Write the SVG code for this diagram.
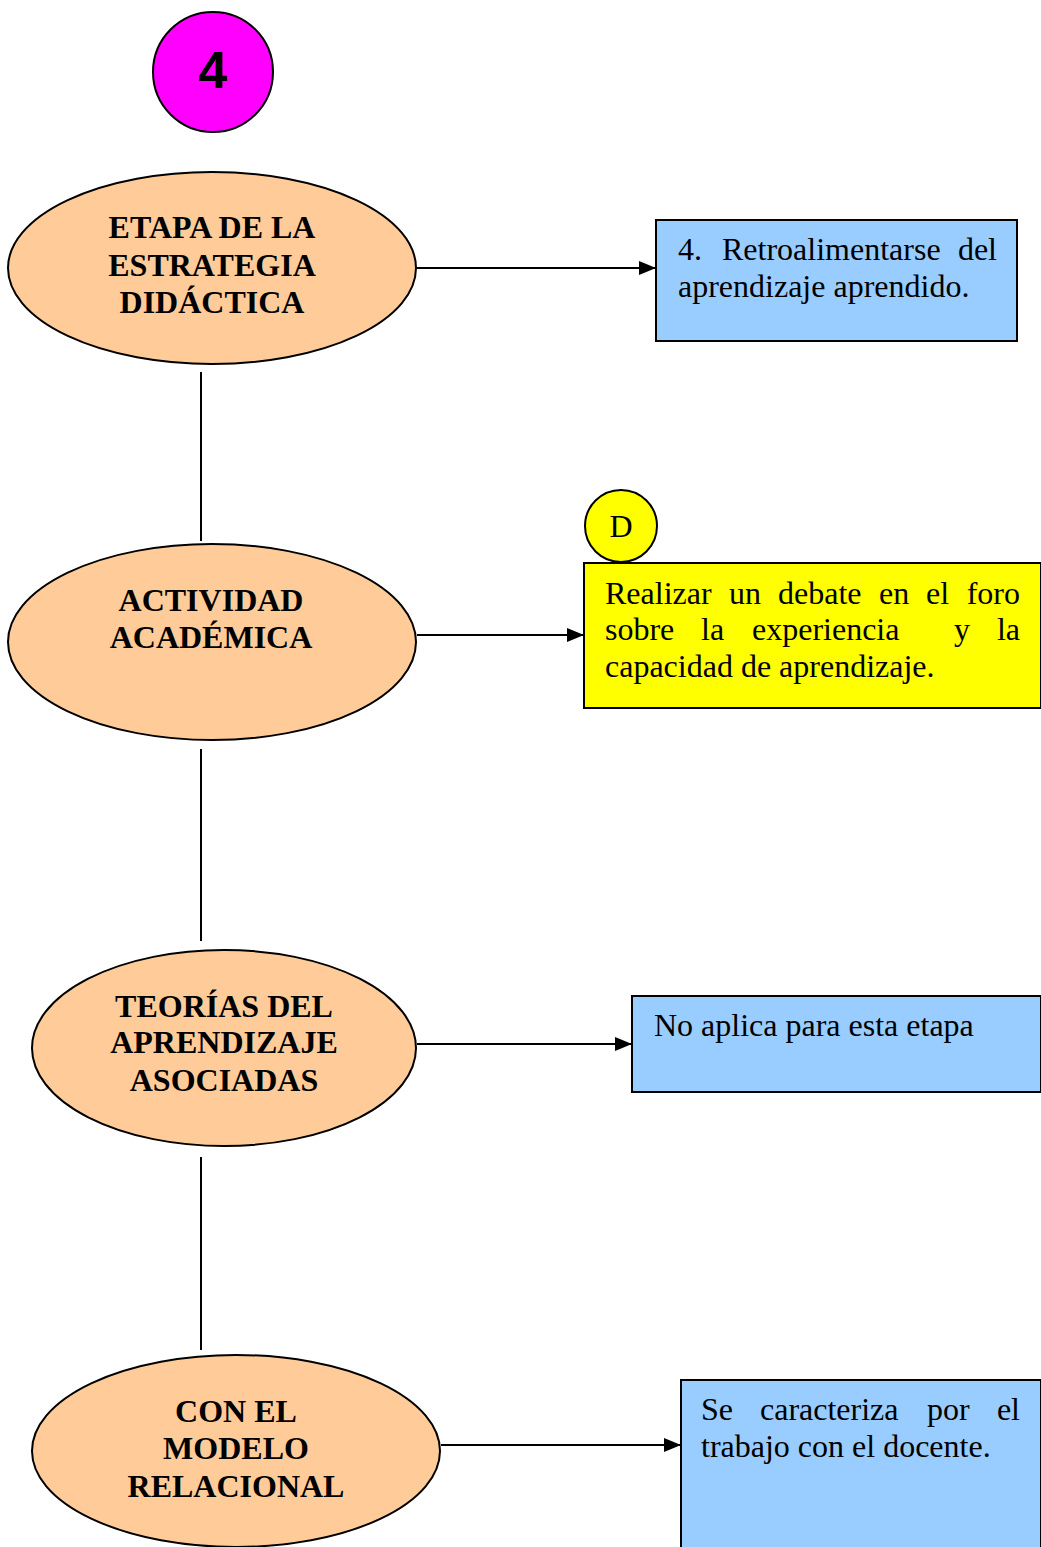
<svg xmlns="http://www.w3.org/2000/svg" width="1041" height="1547" viewBox="0 0 1041 1547">
  <style>
    .oval { fill: #FFCC99; stroke: #000; stroke-width: 2; }
    .box-blue { fill: #99CCFF; stroke: #000; stroke-width: 2; }
    .box-yellow { fill: #FFFF00; stroke: #000; stroke-width: 2; }
    .head { font-family: "Liberation Serif", "Times New Roman", serif; font-weight: bold; font-size: 32px; fill: #000; text-anchor: middle; }
    .body { font-family: "Liberation Serif", "Times New Roman", serif; font-size: 32px; fill: #000; }
    .conn { stroke: #000; stroke-width: 2; fill: none; }
  </style>
  <defs>
    <marker id="arrowhead" viewBox="0 0 17 14" refX="17" refY="7" markerWidth="17" markerHeight="14" markerUnits="userSpaceOnUse" orient="auto">
      <path d="M0,0 L17,7 L0,14 z" fill="#000"/>
    </marker>
  </defs>

  <!-- stage number badge -->
  <g id="badge">
    <circle cx="213" cy="72" r="60" fill="#FF00FF" stroke="#000" stroke-width="2"/>
    <text x="213" y="88" font-family="Liberation Sans, Arial, sans-serif" font-weight="bold" font-size="52" text-anchor="middle">4</text>
  </g>

  <!-- connectors -->
  <g id="connectors">
    <line class="conn" x1="417" y1="268" x2="656" y2="268" marker-end="url(#arrowhead)"/>
    <line class="conn" x1="201" y1="372" x2="201" y2="541"/>
    <line class="conn" x1="417" y1="635" x2="584" y2="635" marker-end="url(#arrowhead)"/>
    <line class="conn" x1="201" y1="749" x2="201" y2="941"/>
    <line class="conn" x1="417" y1="1044" x2="632" y2="1044" marker-end="url(#arrowhead)"/>
    <line class="conn" x1="201" y1="1157" x2="201" y2="1350"/>
    <line class="conn" x1="441" y1="1445" x2="681" y2="1445" marker-end="url(#arrowhead)"/>
  </g>

  <g id="etapa">
    <ellipse class="oval" cx="212" cy="268" rx="204" ry="96"/>
    <text class="head" x="212" y="238">ETAPA DE LA</text>
    <text class="head" x="212" y="276">ESTRATEGIA</text>
    <text class="head" x="212" y="313">DIDÁCTICA</text>
  </g>

  <g id="retroalimentarse">
    <rect class="box-blue" x="656" y="220" width="361" height="121"/>
    <text class="body" x="678" y="260">4.</text>
    <text class="body" x="722" y="260">Retroalimentarse</text>
    <text class="body" x="997" y="260" text-anchor="end">del</text>
    <text class="body" x="678" y="297">aprendizaje aprendido.</text>
  </g>

  <g id="actividad">
    <ellipse class="oval" cx="212" cy="642" rx="204" ry="98"/>
    <text class="head" x="211" y="611">ACTIVIDAD</text>
    <text class="head" x="211" y="648">ACADÉMICA</text>
  </g>

  <g id="marca-d">
    <circle cx="621" cy="526" r="36" fill="#FFFF00" stroke="#000" stroke-width="2"/>
    <text class="body" x="621" y="537" text-anchor="middle">D</text>
  </g>

  <g id="debate">
    <rect class="box-yellow" x="584" y="563" width="457" height="145"/>
    <text class="body" x="605" y="604">Realizar</text>
    <text class="body" x="729" y="604">un</text>
    <text class="body" x="778" y="604">debate</text>
    <text class="body" x="879" y="604">en</text>
    <text class="body" x="926" y="604">el</text>
    <text class="body" x="1020" y="604" text-anchor="end">foro</text>
    <text class="body" x="605" y="640">sobre</text>
    <text class="body" x="701" y="640">la</text>
    <text class="body" x="752" y="640">experiencia</text>
    <text class="body" x="954" y="640">y</text>
    <text class="body" x="1020" y="640" text-anchor="end">la</text>
    <text class="body" x="605" y="677">capacidad de aprendizaje.</text>
  </g>

  <g id="teorias">
    <ellipse class="oval" cx="224" cy="1048" rx="192" ry="98"/>
    <text class="head" x="224" y="1017">TEORÍAS DEL</text>
    <text class="head" x="224" y="1053">APRENDIZAJE</text>
    <text class="head" x="224" y="1091">ASOCIADAS</text>
  </g>

  <g id="no-aplica">
    <rect class="box-blue" x="632" y="996" width="409" height="96"/>
    <text class="body" x="654" y="1036">No aplica para esta etapa</text>
  </g>

  <g id="modelo">
    <ellipse class="oval" cx="236" cy="1451" rx="204" ry="96"/>
    <text class="head" x="236" y="1422">CON EL</text>
    <text class="head" x="236" y="1459">MODELO</text>
    <text class="head" x="236" y="1497">RELACIONAL</text>
  </g>

  <g id="docente">
    <rect class="box-blue" x="681" y="1380" width="360" height="180"/>
    <text class="body" x="701" y="1420">Se</text>
    <text class="body" x="760" y="1420">caracteriza</text>
    <text class="body" x="927" y="1420">por</text>
    <text class="body" x="1020" y="1420" text-anchor="end">el</text>
    <text class="body" x="701" y="1457">trabajo con el docente.</text>
  </g>
</svg>
